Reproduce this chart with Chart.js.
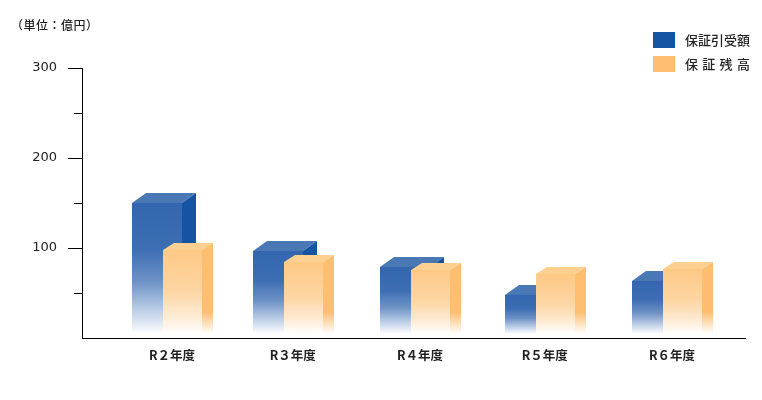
<!DOCTYPE html>
<html lang="ja">
<head>
<meta charset="utf-8">
<title>保証引受額・保証残高</title>
<style>
  html, body { margin: 0; padding: 0; background: #fff; }
  #wrap { position: relative; width: 762px; height: 400px; }
  canvas { display: block; }
</style>
</head>
<body>
<div id="wrap"><canvas id="chart" width="762" height="400"></canvas></div>
<script src="https://cdn.jsdelivr.net/npm/chart.js@4"></script>
<script>
const years = ['R２年度', 'R３年度', 'R４年度', 'R５年度', 'R６年度'];
const underwritten = [150, 97, 79, 48, 63];
const balance = [98, 85, 76, 71, 77];
const seriesNames = ['保証引受額', '保証残高'];
const labelledTicks = [100, 200, 300];
const unitLabel = '（単位：億円）';

const JP_FONT = '"Noto Sans CJK JP", "Noto Sans", sans-serif';

// the year groups in the original are hand placed, not quite evenly spaced
const groupStart = 90;
const groupStep = 124.75;
const groupNudge = [0, -4, -1.5, -1.5, 1];

class YearAxis extends Chart.CategoryScale {
    getPixelForValue(value) {
        const i = typeof value === 'number' ? value : this.parse(value);
        return this.left + groupStart + groupStep * i + (groupNudge[i] || 0);
    }
}
YearAxis.id = 'yearAxis';
YearAxis.defaults = Chart.CategoryScale.defaults;
Chart.register(YearAxis);

const barStyles = [
    {
        shift: -15, dx: 14, dy: 10,
        top: '#4a78b4', side: '#1554a3',
        stops: [[0, '#3366ae'], [0.35, '#3d6eb3'], [0.6, '#6d92c6'], [0.8, '#b5c9e4'], [1, '#ffffff']]
    },
    {
        shift: 10.5, dx: 11, dy: 7,
        top: '#fdd08f', side: '#fdbe70',
        stops: [[0, '#fdc985'], [0.5, '#fdd6a4'], [0.8, '#feecd6'], [1, '#ffffff']]
    }
];

// Draws the 3D boxes from the positions the bar elements got from the scales
const boxes = {
    id: 'boxes',
    afterDatasetsDraw(chart) {
        const ctx = chart.ctx;
        ctx.save();
        barStyles.forEach((style, d) => {
            chart.getDatasetMeta(d).data.forEach(bar => {
                const half = bar.width / 2;
                // snap to whole pixels, otherwise the blue shows through at the seams
                const l = Math.round(bar.x + style.shift - half);
                const r = Math.round(bar.x + style.shift + half);
                const t = Math.round(bar.y);
                const b = Math.round(bar.base) - 4;

                const front = ctx.createLinearGradient(0, t, 0, b);
                style.stops.forEach(s => front.addColorStop(s[0], s[1]));
                ctx.fillStyle = front;
                ctx.fillRect(l, t, r - l, b - t);

                ctx.fillStyle = style.top;
                ctx.beginPath();
                ctx.moveTo(l, t);
                ctx.lineTo(l + style.dx, t - style.dy);
                ctx.lineTo(r + style.dx, t - style.dy);
                ctx.lineTo(r, t);
                ctx.closePath();
                ctx.fill();

                const side = ctx.createLinearGradient(0, b - 22, 0, b);
                side.addColorStop(0, style.side);
                side.addColorStop(1, '#ffffff');
                ctx.fillStyle = side;
                ctx.beginPath();
                ctx.moveTo(r, t);
                ctx.lineTo(r + style.dx, t - style.dy);
                ctx.lineTo(r + style.dx, b);
                ctx.lineTo(r, b);
                ctx.closePath();
                ctx.fill();
            });
        });
        ctx.restore();
    }
};

// Short unlabelled ticks, the unit note and the legend
const extras = {
    id: 'extras',
    afterDraw(chart) {
        const ctx = chart.ctx;
        const y = chart.scales.y;
        ctx.save();
        ctx.strokeStyle = '#000';
        ctx.lineWidth = 1;
        y.ticks.forEach(tick => {
            if (tick.value === 0 || labelledTicks.includes(tick.value)) return;
            const py = Math.round(y.getPixelForValue(tick.value)) + 0.5;
            ctx.beginPath();
            ctx.moveTo(y.right - 8, py);
            ctx.lineTo(y.right, py);
            ctx.stroke();
        });

        ctx.fillStyle = '#222';
        ctx.textBaseline = 'middle';
        ctx.textAlign = 'left';
        ctx.font = '500 12px ' + JP_FONT;
        ctx.letterSpacing = '0.5px';
        ctx.fillText(unitLabel, 11, 25);

        const swatches = ['#1554a3', '#fdbe70'];
        const spacing = ['0px', '4.3px'];
        seriesNames.forEach((name, i) => {
            const top = 32 + i * 24;
            ctx.fillStyle = swatches[i];
            ctx.fillRect(653, top, 22, 16);
            ctx.fillStyle = '#222';
            ctx.font = '500 13px ' + JP_FONT;
            ctx.letterSpacing = spacing[i];
            ctx.fillText(name, 685, top + 8);
        });
        ctx.restore();
    }
};

new Chart(document.getElementById('chart'), {
    type: 'bar',
    data: {
        labels: years,
        datasets: [
            { label: seriesNames[0], data: underwritten, barThickness: 50, backgroundColor: 'transparent', borderWidth: 0 },
            { label: seriesNames[1], data: balance, barThickness: 39, backgroundColor: 'transparent', borderWidth: 0 }
        ]
    },
    plugins: [boxes, extras],
    options: {
        responsive: false,
        animation: false,
        devicePixelRatio: 1,
        layout: { padding: { top: 68, right: 17, left: 0, bottom: 0 } },
        plugins: { legend: { display: false }, tooltip: { enabled: false } },
        datasets: { bar: { grouped: false } },
        scales: {
            x: {
                type: 'yearAxis',
                grid: { display: false, drawTicks: false },
                border: { color: '#000', width: 1 },
                ticks: {
                    color: '#222',
                    font: { family: JP_FONT, size: 12.5, weight: '700' },
                    padding: 10,
                    maxRotation: 0,
                    autoSkip: false
                },
                afterFit: axis => { axis.height = 62; }
            },
            y: {
                min: 0,
                max: 300,
                grid: {
                    drawOnChartArea: false,
                    tickLength: 14,
                    tickColor: ctx => labelledTicks.includes(ctx.tick.value) ? '#000' : 'transparent'
                },
                border: { color: '#000', width: 1 },
                ticks: {
                    stepSize: 50,
                    color: '#222',
                    font: { family: '"DejaVu Sans"', size: 13 },
                    padding: 11,
                    callback: value => labelledTicks.includes(value) ? String(value) : ''
                },
                afterFit: axis => { axis.width = 82; }
            }
        }
    }
});
</script>
</body>
</html>
